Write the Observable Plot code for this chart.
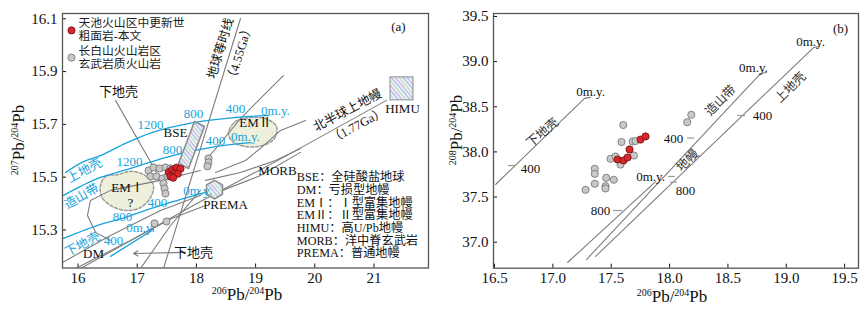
<!DOCTYPE html>
<html><head><meta charset="utf-8">
<script src="https://cdn.jsdelivr.net/npm/d3@7"></script>
<script src="https://cdn.jsdelivr.net/npm/@observablehq/plot@0.6"></script>
<style>
body{margin:0;background:#fff;}
#wrap{position:relative;width:868px;height:310px;overflow:hidden;font-family:"Liberation Serif","Noto Sans CJK SC",serif;background:#fff;}
#pa{position:absolute;left:0;top:0;}
#pb{position:absolute;left:440px;top:0;}
.lab{position:absolute;font-size:17px;white-space:nowrap;color:#111;transform:translate(-50%,-50%);line-height:1;}
.lab sup{font-size:10px;vertical-align:6px;line-height:0;}
.rot{transform:translate(-50%,-50%) rotate(-90deg);}
</style></head><body>
<svg width="0" height="0" style="position:absolute"><defs>
<pattern id="hatch" patternUnits="userSpaceOnUse" width="9" height="9" patternTransform="rotate(-40)">
<rect width="9" height="9" fill="#fff"/>
<line x1="1" y1="0" x2="1" y2="9" stroke="#b79ad6" stroke-width="1.2"/>
<line x1="4" y1="0" x2="4" y2="9" stroke="#9fd0a8" stroke-width="1.2"/>
<line x1="7" y1="0" x2="7" y2="9" stroke="#8aa6e0" stroke-width="1.2"/>
</pattern></defs></svg>
<div id="wrap">
<div id="pa"></div><div id="pb"></div>
<div class="lab" style="left:247px;top:294px"><sup>206</sup>Pb/<sup>204</sup>Pb</div>
<div class="lab rot" style="left:18px;top:140px"><sup>207</sup>Pb/<sup>204</sup>Pb</div>
<div class="lab" style="left:672px;top:296px"><sup>206</sup>Pb/<sup>204</sup>Pb</div>
<div class="lab rot" style="left:456px;top:130px"><sup>208</sup>Pb/<sup>204</sup>Pb</div>
</div>
<script>
// ---------- Panel (a) data: 206Pb/204Pb vs 207Pb/204Pb ----------
const xTicksA = [16, 17, 18, 19, 20, 21];
const yTicksA = [15.3, 15.5, 15.7, 15.9, 16.1];
const redA = [[17.534,15.519],[17.591,15.528],[17.664,15.536],[17.731,15.532],[17.630,15.515],[17.563,15.503],[17.686,15.513],[17.608,15.498]];
const grayA = [[17.191,15.525],[17.275,15.537],[17.377,15.533],[17.478,15.537],[17.563,15.533],[17.225,15.503],[17.326,15.503],[17.427,15.495],[17.512,15.503],[17.444,15.476],[17.461,15.457],[17.478,15.438],[17.292,15.325],[17.495,15.332],[18.204,15.571],[18.204,15.556],[18.187,15.541]];
// blue growth curves (Zartman & Doe)
const upperCrustA = [[15.789,15.518],[16.093,15.559],[16.380,15.582],[16.802,15.628],[17.258,15.670],[17.951,15.707],[18.660,15.726],[19.218,15.734]];
const orogeneA = [[15.755,15.431],[16.042,15.465],[16.380,15.499],[16.887,15.533],[17.596,15.582],[18.323,15.616],[18.914,15.631]];
const mantleA = [[15.755,15.268],[16.380,15.321],[16.752,15.344],[17.343,15.389],[18.154,15.442]];
const lowerCrustA = [[16.549,15.200],[17.275,15.302]];
// gray reference lines and field outlines
const geochronA = [[18.745,16.101],[17.444,15.154]];
const pointerA = [[16.633,15.791],[17.326,15.518]];
const nhrlA = [[21.211,15.791],[19.471,15.575],[18.069,15.408],[16.042,15.154]];
const em2TailA = [[19.471,15.885],[19.117,15.806],[18.745,15.722],[18.441,15.639],[18.154,15.563]];
const em2RightA = [[19.843,15.715],[19.421,15.677],[19.117,15.616],[18.829,15.563],[18.323,15.518]];
const morbUpperA = [[18.154,15.488],[18.745,15.518],[19.336,15.563],[19.758,15.609]];
const morbLowerA = [[18.441,15.450],[19.083,15.506],[19.758,15.594]];
const em1LoopA = [[18.069,15.525],[17.394,15.488],[16.549,15.450],[16.211,15.412],[16.160,15.355],[16.296,15.291],[16.549,15.260]];
const dm1A = [[15.738,15.177],[16.549,15.279],[17.394,15.374],[18.069,15.431]];
const dm2A = [[15.958,15.154],[16.887,15.260],[17.563,15.342],[18.154,15.393]];
const steepA = [[17.056,15.154],[17.563,15.317],[18.069,15.450]];
const arrowA = [{x1:17.816,y1:15.215,x2:16.938,y2:15.211}];
// end-member fields
const em1Blob = [[16.380,15.469],[16.465,15.503],[16.684,15.510],[16.887,15.522],[17.140,15.506],[17.275,15.469],[17.225,15.423],[17.056,15.385],[16.802,15.374],[16.549,15.393],[16.397,15.427]];
const em2Blob = [[18.542,15.669],[18.660,15.711],[18.914,15.726],[19.167,15.722],[19.353,15.692],[19.319,15.647],[19.117,15.620],[18.830,15.616],[18.610,15.635]];
const bseBox = [[17.968,15.711],[18.137,15.692],[17.867,15.533],[17.698,15.552]];
const himuBox = [{x1:21.279,x2:21.667,y1:15.791,y2:15.878}];
const premaPt = [[18.306,15.453]];
// labels
const blueTextA = [
  {x:17.225,y:15.700,t:"1200"},{x:17.951,y:15.741,t:"800"},{x:18.660,y:15.760,t:"400"},{x:19.336,y:15.753,t:"0m.y."},
  {x:16.870,y:15.559,t:"1200"},{x:17.596,y:15.605,t:"800"},{x:18.323,y:15.639,t:"400"},{x:18.829,y:15.651,t:"0m.y."},
  {x:16.752,y:15.351,t:"800"},{x:17.343,y:15.404,t:"400"},{x:18.019,y:15.450,t:"0m.y."},
  {x:16.600,y:15.260,t:"400"},{x:17.056,y:15.309,t:"0m.y."}
];
const blueRotA = [
  {x:16.110,y:15.525,t:"上地壳",a:-28},
  {x:16.059,y:15.427,t:"造山带",a:-30},
  {x:16.076,y:15.245,t:"下地壳",a:-28}
];
const blackTextA = [
  {x:16.684,y:15.824,t:"下地壳"},{x:17.647,y:15.669,t:"BSE"},{x:18.998,y:15.704,t:"EMⅡ"},
  {x:16.836,y:15.461,t:"EMⅠ"},{x:16.887,y:15.404,t:"?"},{x:18.492,y:15.397,t:"PREMA"},
  {x:19.370,y:15.525,t:"MORB"},{x:21.481,y:15.760,t:"HIMU"},{x:16.262,y:15.211,t:"DM"},
  {x:17.951,y:15.215,t:"下地壳"},{x:21.414,y:16.071,t:"(a)"}
];
const rotTextA = [
  {x:18.407,y:15.988,t:"地球等时线",a:-73},
  {x:18.728,y:15.969,t:"（4.55Ga）",a:-73},
  {x:20.552,y:15.753,t:"北半球上地幔",a:-28},
  {x:20.721,y:15.696,t:"（1.77Ga）",a:-28}
];
const abbrevA = ["BSE：全硅酸盐地球","DM：亏损型地幔","EMⅠ：Ⅰ型富集地幔","EMⅡ：Ⅱ型富集地幔","HIMU：高U/Pb地幔","MORB：洋中脊玄武岩","PREMA：普通地幔"];
const abbrevY = [15.499,15.451,15.403,15.355,15.307,15.259,15.211];
const legendText = ["天池火山区中更新世","粗面岩-本文","长白山火山岩区","玄武岩质火山岩"];
const legendTextY = [16.084,16.033,15.978,15.927];
const legendDots = [{x:15.890,y:16.056,k:"red"},{x:15.890,y:15.953,k:"gray"}];

// ---------- Panel (b) data: 206Pb/204Pb vs 208Pb/204Pb ----------
const xTicksB = [16.5,17.0,17.5,18.0,18.5,19.0,19.5];
const yTicksB = [37.0,37.5,38.0,38.5,39.0,39.5];
const redB = [[17.554,37.916],[17.605,37.905],[17.640,37.938],[17.657,38.027],[17.751,38.137],[17.794,38.171]];
const grayB = [[17.603,38.298],[17.588,38.110],[17.683,38.115],[17.708,38.121],[17.694,37.960],[17.494,37.924],[17.537,37.949],[17.580,37.860],[17.359,37.813],[17.359,37.757],[17.457,37.713],[17.522,37.691],[17.280,37.580],[17.359,37.647],[17.451,37.620],[17.451,37.595],[18.151,38.329],[18.186,38.411]];
const lowerCrustB = [[16.509,37.639],[17.271,38.593],[17.322,38.604]];
const mantleB = [[17.126,36.775],[17.880,37.671]];
const orogeneB = [[17.288,36.808],[18.779,38.868],[18.831,38.880]];
const upperCrustB = [[17.365,36.842],[19.234,39.156],[19.285,39.167]];
// short age-tick dashes beside the growth curves
const ageTicksB = [
  {x1:16.620,x2:16.680,y:37.849},{x1:17.520,x2:17.597,y:37.351},{x1:18.154,x2:18.215,y:38.154},
  {x1:17.991,x2:18.051,y:37.728},{x1:18.582,x2:18.651,y:38.403},{x1:18.008,x2:18.068,y:37.664}
];
const numTextB = [
  {x:16.808,y:37.816,t:"400"},{x:17.408,y:37.351,t:"800"},{x:18.034,y:38.148,t:"400"},
  {x:18.137,y:37.573,t:"800"},{x:18.796,y:38.403,t:"400"},
  {x:17.323,y:38.669,t:"0m.y."},{x:18.719,y:38.935,t:"0m.y."},{x:19.208,y:39.223,t:"0m.y."},{x:17.837,y:37.728,t:"0m.y."},
  {x:19.465,y:39.367,t:"(b)"}
];
const rotTextB = [
  {x:16.911,y:38.214,t:"下地壳",a:-40},
  {x:18.437,y:38.569,t:"造山带",a:-45},
  {x:19.036,y:38.713,t:"上地壳",a:-45},
  {x:18.154,y:37.905,t:"地幔",a:-45}
];

// ---------- styles ----------
const BLUE = "#17a2dc", GRAYL = "#7d7d7d";
const SERIF = "Liberation Serif, Noto Sans CJK SC, serif";
const tag = (arr, id) => arr.map(([x, y]) => ({x, y, id}));
const grayLinesA = [geochronA, pointerA, nhrlA, em2TailA, em2RightA, morbUpperA, morbLowerA, em1LoopA, dm1A, dm2A, steepA].flatMap((a, i) => tag(a, i));
const blueLinesA = [upperCrustA, orogeneA, mantleA, lowerCrustA].flatMap((a, i) => tag(a, i));
const grayLinesB = [lowerCrustB, mantleB, orogeneB, upperCrustB].flatMap((a, i) => tag(a, i));

const common = {
  style: {fontFamily: SERIF, fontSize: "15px", color: "#111", background: "transparent"}
};

const pa = Plot.plot({
  ...common,
  width: 440, height: 310,
  marginLeft: 62, marginRight: 12, marginTop: 13, marginBottom: 42.5,
  x: {domain: [15.738, 21.921], ticks: xTicksA, tickFormat: d => String(d), tickSize: -4, tickPadding: 8, label: null},
  y: {domain: [15.156, 16.120], ticks: yTicksA, tickFormat: d => d.toFixed(1), tickSize: -4, tickPadding: 9, label: null},
  marks: [
    Plot.line(em1Blob, {curve: "catmull-rom-closed", fill: "#eef0dc", stroke: "#9a9a9a", strokeDasharray: "3,2"}),
    Plot.line(em2Blob, {curve: "catmull-rom-closed", fill: "#eef0dc", stroke: "#9a9a9a", strokeDasharray: "3,2"}),
    Plot.line(grayLinesA, {x: "x", y: "y", z: "id", stroke: GRAYL, strokeWidth: 1.1, clip: true}),
    Plot.arrow(arrowA, {x1: "x1", y1: "y1", x2: "x2", y2: "y2", stroke: GRAYL, strokeWidth: 1.1, headLength: 7}),
    Plot.line(blueLinesA, {x: "x", y: "y", z: "id", stroke: BLUE, strokeWidth: 1.3, curve: "catmull-rom", clip: true}),
    Plot.line(bseBox, {curve: "linear-closed", fill: "url(#hatch)", stroke: "#8a8a8a"}),
    Plot.rect(himuBox, {x1: "x1", x2: "x2", y1: "y1", y2: "y2", fill: "url(#hatch)", stroke: "#8a8a8a"}),
    Plot.dot(premaPt, {symbol: "hexagon", r: 8, fill: "url(#hatch)", stroke: "#8a8a8a"}),
    Plot.dot(grayA, {r: 3.6, fill: "#c8c8c8", stroke: "#6f6f6f", strokeWidth: 0.8}),
    Plot.dot(redA, {r: 3.6, fill: "#d8262c", stroke: "#6e1010", strokeWidth: 0.8}),
    Plot.dot(legendDots, {x: "x", y: "y", r: 3.6, fill: d => d.k === "red" ? "#d8262c" : "#c8c8c8", stroke: d => d.k === "red" ? "#6e1010" : "#6f6f6f", strokeWidth: 0.8}),
    Plot.text(legendText, {x: 16.008, y: (d, i) => legendTextY[i], text: d => d, textAnchor: "start", fontFamily: SERIF, fontSize: 11.8, fill: "#222"}),
    Plot.text(blueTextA, {x: "x", y: "y", text: "t", fill: BLUE, fontSize: 13, fontFamily: SERIF}),
    Plot.text(blueRotA, {x: "x", y: "y", text: "t", rotate: "a", fill: BLUE, fontSize: 12.5, fontFamily: SERIF}),
    Plot.text(blackTextA, {x: "x", y: "y", text: "t", fill: "#111", fontSize: 13, fontFamily: SERIF}),
    Plot.text(rotTextA, {x: "x", y: "y", text: "t", rotate: "a", fill: "#111", fontSize: 12.5, fontFamily: SERIF}),
    Plot.text(abbrevA, {x: 19.696, y: (d, i) => abbrevY[i], text: d => d, textAnchor: "start", fill: "#111", fontSize: 12.2, fontFamily: SERIF}),
    Plot.frame({stroke: "#555", strokeWidth: 1.3})
  ]
});
document.getElementById("pa").append(pa);

const pb = Plot.plot({
  ...common,
  width: 428, height: 310,
  marginLeft: 53, marginRight: 10, marginTop: 13, marginBottom: 42.3,
  x: {domain: [16.491, 19.619], ticks: xTicksB, tickFormat: d => d.toFixed(1), tickSize: -4, tickPadding: 8, label: null},
  y: {domain: [36.712, 39.533], ticks: yTicksB, tickFormat: d => d.toFixed(1), tickSize: -4, tickPadding: 9, label: null},
  marks: [
    Plot.line(grayLinesB, {x: "x", y: "y", z: "id", stroke: GRAYL, strokeWidth: 1.1, clip: true}),
    Plot.ruleY(ageTicksB, {x1: "x1", x2: "x2", y: "y", stroke: "#999", strokeWidth: 1.2}),
    Plot.dot(grayB, {r: 3.6, fill: "#c8c8c8", stroke: "#6f6f6f", strokeWidth: 0.8}),
    Plot.dot(redB, {r: 3.6, fill: "#d8262c", stroke: "#6e1010", strokeWidth: 0.8}),
    Plot.text(numTextB, {x: "x", y: "y", text: "t", fill: "#111", fontSize: 13, fontFamily: SERIF}),
    Plot.text(rotTextB, {x: "x", y: "y", text: "t", rotate: "a", fill: "#333", fontSize: 12.5, fontFamily: SERIF}),
    Plot.frame({stroke: "#555", strokeWidth: 1.3})
  ]
});
document.getElementById("pb").append(pb);
</script>
</body></html>
